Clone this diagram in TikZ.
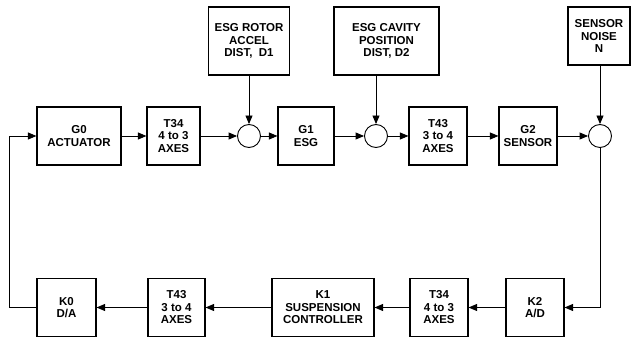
\documentclass[tikz,border=0pt]{standalone}
\usepackage{fontspec}
\setmainfont{Liberation Sans}
\usetikzlibrary{arrows.meta}
\begin{document}
\begin{tikzpicture}[x=1pt,y=-1pt,
  blk/.style={draw,line width=1.1pt,inner sep=0pt,align=center,font=\fontsize{11.5}{12.5}\selectfont\bfseries,minimum height=58pt},
  sumj/.style={draw,line width=0.9pt,circle,minimum size=23pt,inner sep=0pt},
  con/.style={line width=0.9pt,-{Triangle[length=8.5pt,width=7pt]}}]
\useasboundingbox (0,0) rectangle (632,339);
% disturbance boxes
\node[blk,minimum width=81pt,minimum height=68pt] (rot) at (249,41) {ESG ROTOR\\ACCEL\\DIST,\ \ D1};
\node[blk,minimum width=105pt,minimum height=68pt] (cav) at (386.5,41) {ESG CAVITY\\POSITION\\DIST, D2};
\node[blk,minimum width=62pt,minimum height=58pt] (noi) at (599,36) {SENSOR\\NOISE\\N};
% forward path
\node[blk,minimum width=84pt] (g0) at (79,136) {G0\\ACTUATOR};
\node[blk,minimum width=53pt] (t34a) at (173.5,136) {T34\\4 to 3\\AXES};
\node[sumj] (c1) at (249,136) {};
\node[blk,minimum width=56pt] (g1) at (306,136) {G1\\ESG};
\node[sumj] (c2) at (376,136) {};
\node[blk,minimum width=58pt] (t43a) at (438,136) {T43\\3 to 4\\AXES};
\node[blk,minimum width=58pt] (g2) at (528,136) {G2\\SENSOR};
\node[sumj] (c3) at (600,136) {};
% feedback path
\node[blk,minimum width=59pt] (k0) at (66.5,307.5) {K0\\D/A};
\node[blk,minimum width=57pt] (t43b) at (176.5,307.5) {T43\\3 to 4\\AXES};
\node[blk,minimum width=102pt] (k1) at (323,307.5) {K1\\SUSPENSION\\CONTROLLER};
\node[blk,minimum width=58pt] (t34b) at (439,307.5) {T34\\4 to 3\\AXES};
\node[blk,minimum width=58pt] (k2) at (535,307.5) {K2\\A/D};
\coordinate (fl) at (9,200);
% connectors
\draw[con] (g0) -- (t34a);
\draw[con] (t34a) -- (c1);
\draw[con] (c1) -- (g1);
\draw[con] (g1) -- (c2);
\draw[con] (c2) -- (t43a);
\draw[con] (t43a) -- (g2);
\draw[con] (g2) -- (c3);
\draw[con] (rot.south -| c1.north) -- (c1.north);
\draw[con] (cav.south -| c2.north) -- (c2.north);
\draw[con] (noi.south -| c3.north) -- (c3.north);
\draw[con] (c3.south) |- (k2.east);
\draw[con] (k2) -- (t34b);
\draw[con] (t34b) -- (k1);
\draw[con] (k1) -- (t43b);
\draw[con] (t43b) -- (k0);
\draw[con] (k0.west) -| (fl |- g0.west) -- (g0.west);
\end{tikzpicture}
\end{document}
